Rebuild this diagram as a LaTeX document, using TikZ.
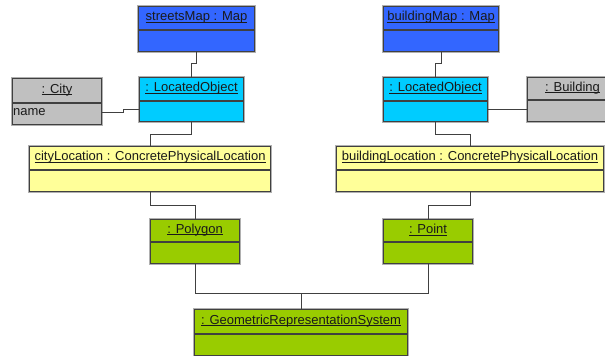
\documentclass[tikz,border=0pt]{standalone}
\usepackage{fontspec}
\setmainfont{Liberation Sans}
\usetikzlibrary{calc}

\definecolor{mapblue}{HTML}{3366FF}
\definecolor{locatedcyan}{HTML}{00CCFF}
\definecolor{entitygray}{HTML}{C0C0C0}
\definecolor{placeyellow}{HTML}{FFFF99}
\definecolor{geomgreen}{HTML}{99CC00}
\definecolor{edgegray}{HTML}{404040}
\definecolor{halogray}{HTML}{B0B0B0}
\definecolor{inkdark}{HTML}{1A1A1A}

% underlined object name, rule just under the baseline
\newcommand{\objname}[1]{\setbox0\hbox{#1}\rlap{\rule[-1.8pt]{\wd0}{0.7pt}}\box0}

\tikzset{
  objbox/.style={draw=edgegray, line width=1.1pt, rectangle, inner sep=0pt, anchor=north west,
    preaction={draw=halogray, line width=2.4pt}},
  divider/.style={draw=edgegray, line width=1.1pt},
  objtitle/.style={font=\fontsize{13}{15}\selectfont, text=inkdark, inner sep=0pt},
  attr/.style={font=\fontsize{13}{15}\selectfont, text=inkdark, inner sep=0pt, anchor=west},
  conn/.style={draw=edgegray, line width=1.1pt},
}

% #1 name, #2 left, #3 top, #4 width, #5 height, #6 title compartment height, #7 fill, #8 title
\newcommand{\objbox}[8]{%
  \node[objbox, fill=#7, minimum width=#4pt, minimum height=#5pt] (#1) at (#2,#3) {};
  \draw[divider] ([yshift=-#6pt]#1.north west) -- ([yshift=-#6pt]#1.north east);
  \node[objtitle] (#1-title) at ([yshift=-#6pt/2+0.5pt]#1.north) {\objname{#8}};
}

\begin{document}
\begin{tikzpicture}[x=1pt, y=-1pt]
  \clip (0,0) rectangle (605,356);
  \useasboundingbox (0,0) rectangle (605,356);

  % maps
  \objbox{streetsmap}{138}{6}{116}{45}{24}{mapblue}{streetsMap : Map}
  \objbox{buildingmap}{383}{6}{115}{45}{24}{mapblue}{buildingMap : Map}

  % located objects and their entities
  \objbox{locleft}{139}{77}{104}{44}{24}{locatedcyan}{: LocatedObject}
  \objbox{locright}{383}{77}{104}{44}{24}{locatedcyan}{: LocatedObject}
  \objbox{city}{12}{78}{89}{46}{25}{entitygray}{: City}
  \node[attr] (cityname) at ([xshift=1pt, yshift=-34.5pt]city.north west) {name};
  \objbox{building}{527}{77}{90}{44}{23}{entitygray}{: Building}

  % physical locations
  \objbox{citylocation}{29}{146}{241}{45}{24}{placeyellow}{cityLocation : ConcretePhysicalLocation}
  \objbox{buildinglocation}{336}{146}{267}{45}{24}{placeyellow}{buildingLocation : ConcretePhysicalLocation}

  % geometries
  \objbox{polygon}{150}{219}{89}{44}{23}{geomgreen}{: Polygon}
  \objbox{point}{383}{219}{89}{44}{23}{geomgreen}{: Point}
  \objbox{georep}{194}{309}{213}{46}{25}{geomgreen}{: GeometricRepresentationSystem}

  % links
  \draw[conn] (streetsmap.south) -- ++(0,11) -| (locleft.north);
  \draw[conn] (buildingmap.south) -- ++(0,11) -| (locright.north);
  \draw[conn] ([yshift=-11pt]city.east) -- ++(21,0) |- ([yshift=-10pt]locleft.west);
  \draw[conn] ([yshift=-10pt]locright.east) -- ([yshift=-10pt]building.west);
  \draw[conn] (locleft.south) -- ++(0,12) -| (citylocation.north);
  \draw[conn] (locright.south) -- ++(0,12) -| (buildinglocation.north);
  \draw[conn] (citylocation.south) -- ++(0,13) -| (polygon.north);
  \draw[conn] (buildinglocation.south) -- ++(0,13) -| (point.north);
  \draw[conn] (polygon.south) -- ++(0,29) -| (georep.north);
  \draw[conn] (point.south) -- ++(0,29) -| (georep.north);
\end{tikzpicture}
\end{document}
